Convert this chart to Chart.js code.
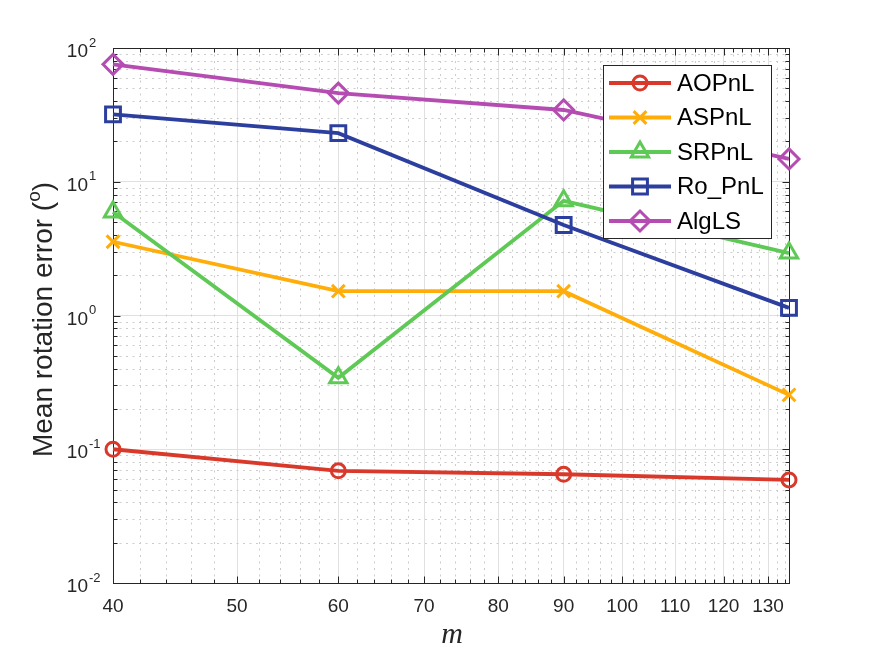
<!DOCTYPE html>
<html>
<head>
<meta charset="utf-8">
<script src="https://cdn.jsdelivr.net/npm/chart.js@4.4.0/dist/chart.umd.min.js"></script>
<style>
  html, body { margin: 0; padding: 0; background: #fff; }
</style>
</head>
<body>
<canvas id="chart" width="872" height="654"></canvas>
<script>
// Data
const mValues = [40, 60, 90, 135];
const aopnl = [0.100, 0.069, 0.065, 0.059];
const aspnl = [3.56, 1.52, 1.52, 0.255];
const srpnl = [5.94, 0.342, 7.2, 2.93];
const roPnl = [31.9, 23.1, 4.75, 1.14];
const algls = [75.5, 46, 34.4, 14.8];

const seriesNames = ['AOPnL', 'ASPnL', 'SRPnL', 'Ro_PnL', 'AlgLS'];
const seriesColors = ['#d9392a', '#ffad0a', '#5fc955', '#2d3f9e', '#b54cb2'];
const xTickLabels = [40, 50, 60, 70, 80, 90, 100, 110, 120, 130];
const yDecades = [-2, -1, 0, 1, 2];

const FONT = "'Liberation Sans', Arial, Helvetica, sans-serif";
const AXIS_COLOR = '#262626';

// tick positions (majors + minors) in the matlab style
function xTicks() {
    const out = [];
    for (let v = 40; v <= 134; v += 2) out.push(v);
    return out;
}
function yTicks() {
    const out = [];
    for (let e = -2; e < 2; e++) {
        for (let k = 1; k <= 9; k++) out.push(Number((k * Math.pow(10, e)).toPrecision(3)));
    }
    out.push(100);
    return out;
}
const isMajorX = v => v % 10 === 0;
const isMajorY = v => Math.abs(Math.log10(v) - Math.round(Math.log10(v))) < 1e-9;

const matlabAxes = {
    id: 'matlabAxes',
    beforeDatasetsDraw(chart) {
        const { ctx, chartArea: a, scales: { x, y } } = chart;
        ctx.save();
        // dotted minor grid
        ctx.strokeStyle = '#cccccc';
        ctx.lineWidth = 1;
        ctx.setLineDash([2, 4.5]);
        x.ticks.forEach(t => {
            if (isMajorX(t.value)) return;
            const px = Math.round(x.getPixelForValue(t.value)) + 0.5;
            ctx.beginPath(); ctx.moveTo(px, a.bottom); ctx.lineTo(px, a.top); ctx.stroke();
        });
        y.ticks.forEach(t => {
            if (isMajorY(t.value)) return;
            const py = Math.round(y.getPixelForValue(t.value)) + 0.5;
            ctx.beginPath(); ctx.moveTo(a.left, py); ctx.lineTo(a.right, py); ctx.stroke();
        });
        ctx.setLineDash([]);

        // box + inward ticks
        ctx.strokeStyle = AXIS_COLOR;
        ctx.lineWidth = 1;
        const L = Math.round(a.left) + 0.5, R = Math.round(a.right) + 0.5;
        const T = Math.round(a.top) + 0.5, B = Math.round(a.bottom) + 0.5;
        ctx.strokeRect(L, T, R - L, B - T);
        ctx.beginPath();
        x.ticks.forEach(t => {
            const px = Math.round(x.getPixelForValue(t.value)) + 0.5;
            const len = isMajorX(t.value) ? 7 : 4;
            ctx.moveTo(px, B); ctx.lineTo(px, B - len);
            ctx.moveTo(px, T); ctx.lineTo(px, T + len);
        });
        y.ticks.forEach(t => {
            const py = Math.round(y.getPixelForValue(t.value)) + 0.5;
            const len = isMajorY(t.value) ? 7 : 4;
            ctx.moveTo(L, py); ctx.lineTo(L + len, py);
            ctx.moveTo(R, py); ctx.lineTo(R - len, py);
        });
        ctx.stroke();

        // tick labels
        ctx.fillStyle = AXIS_COLOR;
        ctx.font = '19px ' + FONT;
        ctx.textAlign = 'center';
        ctx.textBaseline = 'top';
        xTickLabels.forEach(v => {
            ctx.fillText(String(v), x.getPixelForValue(v), a.bottom + 14);
        });
        yDecades.forEach(e => {
            const py = y.getPixelForValue(Math.pow(10, e));
            ctx.font = '19px ' + FONT;
            ctx.textAlign = 'right';
            ctx.textBaseline = 'middle';
            ctx.fillText('10', 88, py + 4);
            ctx.font = '13px ' + FONT;
            ctx.textAlign = 'left';
            ctx.fillText(e < 0 ? '-' + Math.abs(e) : String(e), 89, py - 5);
        });

        // axis titles
        ctx.save();
        ctx.translate(44, (a.top + a.bottom) / 2 + 4);
        ctx.rotate(-Math.PI / 2);
        ctx.fillStyle = AXIS_COLOR;
        ctx.textBaseline = 'middle';
        ctx.textAlign = 'left';
        const part1 = 'Mean rotation error (', sup = 'o', part2 = ')';
        ctx.font = '28px ' + FONT;
        const w1 = ctx.measureText(part1).width, w3 = ctx.measureText(part2).width;
        ctx.font = '19px ' + FONT;
        const w2 = ctx.measureText(sup).width;
        let sx = -(w1 + w2 + w3) / 2;
        ctx.font = '28px ' + FONT;
        ctx.fillText(part1, sx, 0);
        ctx.font = '19px ' + FONT;
        ctx.fillText(sup, sx + w1, -9);
        ctx.font = '28px ' + FONT;
        ctx.fillText(part2, sx + w1 + w2, 0);
        ctx.restore();

        ctx.font = "italic 30px 'Liberation Serif', 'Times New Roman', serif";
        ctx.textAlign = 'center';
        ctx.textBaseline = 'alphabetic';
        ctx.fillText('m', (a.left + a.right) / 2 + 1, 643);
        ctx.restore();
    },
    afterDatasetsDraw(chart) {
        const { ctx } = chart;
        ctx.save();
        ctx.fillStyle = '#ffffff';
        ctx.fillRect(603.5, 65.5, 168, 173);
        ctx.strokeStyle = AXIS_COLOR;
        ctx.lineWidth = 1;
        ctx.strokeRect(603.5, 65.5, 168, 173);
        chart.data.datasets.forEach((ds, i) => {
            const ry = 83 + i * 34.5;
            ctx.strokeStyle = ds.borderColor;
            ctx.lineWidth = ds.borderWidth;
            ctx.beginPath(); ctx.moveTo(609, ry); ctx.lineTo(671, ry); ctx.stroke();
            ctx.lineWidth = ds.pointBorderWidth;
            ctx.fillStyle = 'rgba(0,0,0,0)';
            Chart.helpers.drawPoint(ctx, {
                pointStyle: ds.pointStyle, radius: ds.pointRadius,
                borderWidth: ds.pointBorderWidth, rotation: 0
            }, 640, ry);
            ctx.fillStyle = '#000';
            ctx.font = '24px ' + FONT;
            ctx.textAlign = 'left';
            ctx.textBaseline = 'middle';
            ctx.fillText(ds.label, 677, ry + 1);
        });
        ctx.restore();
    }
};

const seriesValues = [aopnl, aspnl, srpnl, roPnl, algls];
const pointStyles = ['circle', 'crossRot', 'triangle', 'rect', 'rectRot'];
const pointSizes = [7, 9, 10, 10.5, 10];

new Chart(document.getElementById('chart'), {
    type: 'line',
    data: {
        datasets: seriesValues.map((vals, i) => ({
            label: seriesNames[i],
            data: mValues.map((m, j) => ({ x: m, y: vals[j] })),
            borderColor: seriesColors[i],
            backgroundColor: 'rgba(0,0,0,0)',
            borderWidth: 3.8,
            pointStyle: pointStyles[i],
            pointRadius: pointSizes[i],
            pointBorderWidth: 3,
            pointBackgroundColor: 'rgba(0,0,0,0)',
            pointBorderColor: seriesColors[i],
            tension: 0,
            clip: false,
            order: 4 - i
        }))
    },
    plugins: [matlabAxes],
    options: {
        responsive: false,
        animation: false,
        layout: { padding: { left: 113, top: 48, right: 83, bottom: 71 } },
        plugins: {
            legend: { display: false },
            tooltip: { enabled: false }
        },
        scales: {
            x: {
                type: 'logarithmic',
                min: 40,
                max: 135,
                afterBuildTicks: s => { s.ticks = xTicks().map(v => ({ value: v })); },
                ticks: { display: false },
                border: { display: false },
                grid: {
                    drawTicks: false,
                    color: c => (c.tick && isMajorX(c.tick.value)) ? '#e0e0e0' : 'rgba(0,0,0,0)'
                }
            },
            y: {
                type: 'logarithmic',
                min: 0.01,
                max: 100,
                afterBuildTicks: s => { s.ticks = yTicks().map(v => ({ value: v })); },
                ticks: { display: false },
                border: { display: false },
                grid: {
                    drawTicks: false,
                    color: c => (c.tick && isMajorY(c.tick.value)) ? '#e0e0e0' : 'rgba(0,0,0,0)'
                }
            }
        }
    }
});
</script>
</body>
</html>
